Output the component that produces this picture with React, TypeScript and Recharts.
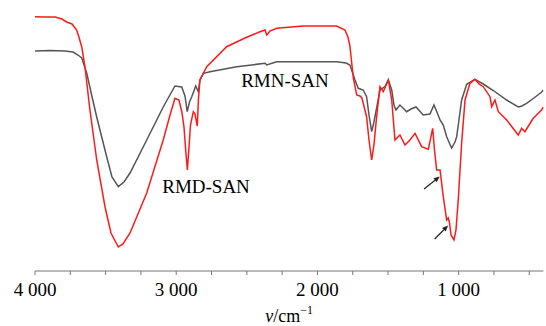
import React from 'react';
import { LineChart, Line, XAxis, YAxis, ReferenceDot, ReferenceLine } from 'recharts';

// wavenumber (cm-1) and relative transmittance (arbitrary units)
const rmnWave = [4000, 3894, 3788, 3731, 3696, 3669, 3634, 3599, 3563, 3492, 3455, 3410, 3370, 3327, 3209, 3092, 3009, 2961, 2938, 2922, 2906, 2890, 2862, 2844, 2832, 2808, 2761, 2572, 2371, 2359, 2289, 1864, 1798, 1770, 1734, 1711, 1676, 1652, 1635, 1616, 1600, 1581, 1557, 1522, 1498, 1474, 1458, 1444, 1416, 1368, 1338, 1302, 1251, 1203, 1175, 1154, 1132, 1109, 1085, 1050, 1026, 1014, 998, 979, 943, 885, 826, 755, 660, 578, 552, 519, 467, 412, 400];
const rmnValue = [219, 219.5, 219, 218, 215, 212, 197, 175, 153, 113, 93, 83.3, 88, 97, 130, 163, 184, 183, 174, 158.3, 168, 173.3, 184, 178.3, 190, 196.7, 198.3, 203.3, 206.7, 205, 208.3, 208.3, 207, 205, 190, 181.7, 180, 173.3, 155, 138.3, 148, 162, 180, 183.3, 190, 180, 165, 160, 165, 158.3, 161, 163, 155, 156, 165, 158, 150, 145, 133.3, 122, 128, 133.3, 150, 170, 185.7, 190.7, 186, 179.5, 170, 163, 164, 166.7, 172, 178, 180];

const rmdWave = [4000, 3929, 3858, 3809, 3776, 3738, 3705, 3689, 3669, 3646, 3611, 3563, 3504, 3462, 3410, 3377, 3327, 3209, 3092, 3044, 3009, 2981, 2960, 2945, 2933, 2921, 2910, 2899, 2879, 2867, 2851, 2843, 2832, 2784, 2643, 2513, 2407, 2371, 2359, 2336, 2289, 2102, 1864, 1805, 1784, 1770, 1746, 1722, 1699, 1685, 1652, 1635, 1616, 1600, 1581, 1557, 1534, 1498, 1474, 1451, 1416, 1380, 1345, 1309, 1262, 1215, 1184, 1171, 1156, 1132, 1109, 1085, 1074, 1066, 1054, 1033, 1019, 1003, 979, 955, 920, 885, 856, 826, 778, 766, 743, 719, 660, 578, 554, 531, 472, 413, 400];
const rmdValue = [253.3, 253, 253, 251, 248, 246, 240, 233, 223, 203, 160, 110, 63, 37, 23, 26, 37, 77, 130, 155, 171.7, 170, 158, 143, 120, 100, 122, 145, 158.3, 156, 144, 170, 190, 203.3, 223.3, 232, 238.3, 240, 235, 239, 241.7, 244, 244, 240, 233, 224, 192, 175, 174, 172, 153.3, 130, 110, 125, 153.3, 183.3, 178.3, 190, 170, 130, 135, 125, 130, 136.7, 123.3, 120.7, 141.7, 120, 100, 100, 73.3, 50, 52, 48, 35, 30, 40, 70, 126.7, 170, 186.7, 190.7, 186, 183.3, 173.3, 163.3, 170, 158.3, 150, 135, 141.7, 138.3, 151.7, 160, 163];

const xTicks = [4000, 3750, 3500, 3250, 3000, 2750, 2500, 2250, 2000, 1750, 1500, 1250, 1000, 750, 500];

// annotation arrows: [fromWave, fromValue, toWave, toValue]
const arrows = [
  [1245, 81, 1134, 93.5],
  [1170, 31, 1075, 44.5],
];

const rmnData = rmnWave.map((w, i) => ({ w, t: rmnValue[i] }));
const rmdData = rmdWave.map((w, i) => ({ w, t: rmdValue[i] }));

const serif = '"Liberation Serif", "Times New Roman", serif';

const formatTick = (v: number) => (v % 1000 === 0 ? `${v / 1000} 000` : '');

const ArrowShape = (props: any) => {
  const { x1, y1, x2, y2 } = props;
  if (x1 == null) return null;
  const a = Math.atan2(y2 - y1, x2 - x1);
  const len = 6;
  const w = 2.6;
  const bx = x2 - len * Math.cos(a);
  const by = y2 - len * Math.sin(a);
  const px = -Math.sin(a) * w;
  const py = Math.cos(a) * w;
  return (
    <g>
      <line x1={x1} y1={y1} x2={bx} y2={by} stroke="#222" strokeWidth={1.2} />
      <polygon points={`${x2},${y2} ${bx + px},${by + py} ${bx - px},${by - py}`} fill="#222" />
    </g>
  );
};

const AxisTitle = (props: any) => {
  const { viewBox } = props;
  const cx = viewBox.x + viewBox.width / 2;
  return (
    <text x={cx} y={322} textAnchor="middle" fontFamily={serif} fontSize={18} fill="#000">
      <tspan fontStyle="italic">v</tspan>
      <tspan>/cm</tspan>
      <tspan dy={-8} fontSize={12}>−1</tspan>
    </text>
  );
};

const App: React.FC = () => {
  return (
    <div style={{ position: 'absolute', left: 0, top: 0, background: '#fff' }}>
      <LineChart width={546} height={326} margin={{ top: 10, right: 2.6, left: 35, bottom: 25 }}>
        <XAxis
          dataKey="w"
          type="number"
          domain={[400, 4000]}
          reversed
          ticks={xTicks}
          interval={0}
          height={30}
          tickFormatter={formatTick}
          stroke="#777"
          tickSize={4}
          tickMargin={8}
          tick={{ fill: '#000', fontSize: 19, fontFamily: serif }}
          allowDataOverflow
          label={<AxisTitle />}
        />
        <YAxis type="number" domain={[-1, 260]} hide />
        <Line data={rmnData} dataKey="t" type="linear" stroke="#555" strokeWidth={1.5} dot={false} isAnimationActive={false} />
        <Line data={rmdData} dataKey="t" type="linear" stroke="#ff1a1a" strokeWidth={1.5} dot={false} isAnimationActive={false} />
        <ReferenceDot x={2230} y={190} r={0} fill="none" stroke="none"
          label={{ value: 'RMN-SAN', position: 'center', fill: '#000', fontSize: 19, fontFamily: serif }} />
        <ReferenceDot x={2789} y={84} r={0} fill="none" stroke="none"
          label={{ value: 'RMD-SAN', position: 'center', fill: '#000', fontSize: 19, fontFamily: serif }} />
        {arrows.map((a, i) => (
          <ReferenceLine key={i} segment={[{ x: a[0], y: a[1] }, { x: a[2], y: a[3] }]} shape={<ArrowShape />} />
        ))}
      </LineChart>
    </div>
  );
};

export default App;
